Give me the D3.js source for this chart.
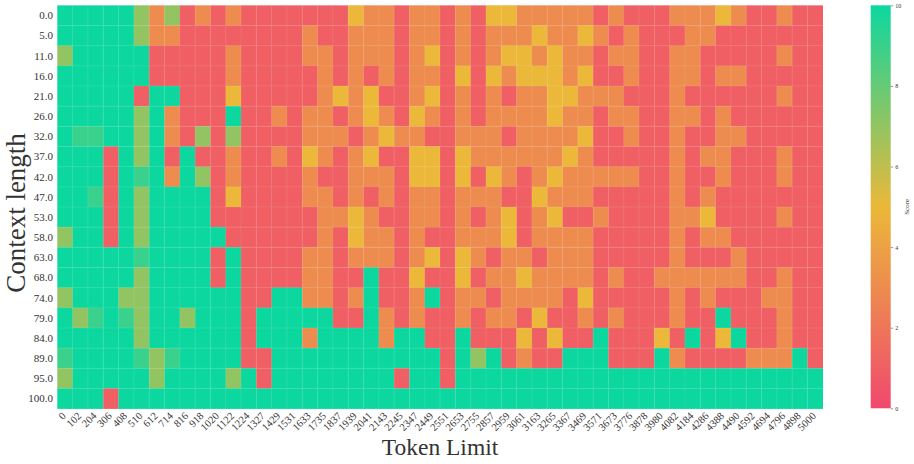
<!DOCTYPE html>
<html>
<head>
<meta charset="utf-8">
<script src="https://cdn.jsdelivr.net/npm/d3@7"></script>
<style>
  body { margin: 0; background: #fff; }
  text { font-family: "Liberation Serif", "DejaVu Serif", serif; fill: #333; }
</style>
</head>
<body>
<svg id="chart" width="914" height="464"></svg>
<script>
// token limits along x, needle depth (%) along y
var tokenLimits = ["0","102","204","306","408","510","612","714","816","918",
  "1020","1122","1224","1327","1429","1531","1633","1735","1837","1939",
  "2041","2143","2245","2347","2449","2551","2653","2755","2857","2959",
  "3061","3163","3265","3367","3469","3571","3673","3776","3878","3980",
  "4082","4184","4286","4388","4490","4592","4694","4796","4898","5000"];
var depths = ["0.0","5.0","11.0","16.0","21.0","26.0","32.0","37.0","42.0","47.0",
  "53.0","58.0","63.0","68.0","74.0","79.0","84.0","89.0","95.0","100.0"];
var cbTicks = [0, 2, 4, 6, 8, 10];

// one row per depth, one score per token limit
var scores = [
  [10,10,10,10,10,7,3,7,1,3, 1,3,1,1,1,1,1,1,1,5, 3,3,1,3,3,1,3,1,5,5, 3,3,3,3,3,1,3,1,1,1, 3,3,3,5,3,1,1,3,1,1],
  [10,10,10,10,10,7,3,3,1,1, 1,1,1,1,1,1,3,1,1,3, 3,3,1,3,3,1,3,1,3,3, 3,5,3,3,5,3,1,3,1,1, 1,3,3,1,1,1,1,1,1,1],
  [7,10,10,10,10,10,1,1,1,1, 1,3,1,1,1,1,3,3,1,3, 3,3,1,3,5,1,3,1,3,5, 5,3,5,3,3,1,3,3,1,1, 3,3,1,1,1,1,1,3,1,1],
  [10,10,10,10,10,10,1,1,1,1, 1,3,1,1,1,1,1,3,1,3, 1,3,1,3,3,1,5,1,5,3, 5,5,5,3,5,1,1,3,1,1, 3,3,1,3,3,1,1,1,1,1],
  [10,10,10,10,10,1,10,10,1,1, 1,5,1,1,1,1,1,3,5,3, 5,1,1,3,5,1,3,1,3,1, 3,3,5,5,3,3,3,1,1,1, 3,1,1,1,1,1,1,3,1,1],
  [10,10,10,10,10,7,10,3,1,1, 1,10,1,1,3,1,3,3,1,3, 5,3,1,5,3,1,3,1,3,3, 3,3,5,3,3,1,3,3,1,1, 3,3,1,3,1,1,1,1,1,1],
  [10,9,9,10,10,7,10,3,1,7, 1,7,1,1,1,1,3,3,3,1, 3,5,3,3,1,1,3,3,3,1, 3,3,3,3,5,1,1,3,1,1, 3,1,1,3,3,1,1,1,1,1],
  [10,10,10,1,10,7,10,1,10,1, 1,3,1,1,3,1,5,3,1,3, 5,1,1,5,5,1,5,3,3,3, 3,3,3,5,3,1,1,1,1,1, 3,1,3,3,1,1,1,3,1,1],
  [10,10,10,1,10,9,10,3,10,7, 1,3,1,1,1,1,3,1,1,3, 3,3,1,5,5,1,5,1,5,3, 1,3,5,3,3,3,3,3,1,1, 3,1,1,3,1,1,1,3,1,1],
  [10,10,9,1,10,7,10,10,10,10, 1,5,1,1,1,1,3,3,1,3, 1,3,1,3,3,1,3,3,3,1, 1,5,3,3,3,1,1,1,1,1, 3,1,3,1,1,1,1,1,1,1],
  [10,10,10,1,10,7,10,10,10,10, 1,1,1,1,1,1,1,3,3,5, 3,1,1,3,3,1,3,1,3,5, 1,3,5,1,1,3,1,1,1,1, 3,3,5,1,1,1,1,3,1,1],
  [7,10,10,1,10,7,10,10,10,10, 10,1,1,1,1,1,1,3,1,5, 3,3,1,3,1,1,3,3,3,5, 1,3,3,3,3,1,1,1,1,1, 3,1,3,3,1,1,1,1,1,1],
  [10,10,10,10,10,9,10,10,10,10, 1,10,1,1,1,1,3,3,1,3, 3,3,1,3,5,1,5,3,1,3, 3,1,3,3,3,1,1,1,1,1, 3,1,1,1,3,1,1,1,1,1],
  [10,10,10,10,10,7,10,10,10,10, 1,10,1,1,1,1,3,3,1,1, 10,1,1,5,1,1,5,1,3,3, 5,3,3,3,3,1,3,1,1,3, 3,3,3,3,3,1,1,3,1,1],
  [7,10,10,10,7,7,10,10,10,10, 10,10,1,1,10,10,3,3,1,3, 10,1,1,3,10,1,3,3,1,3, 3,3,3,1,5,1,1,1,1,1, 3,1,3,1,1,1,3,3,1,1],
  [10,7,9,10,9,7,10,10,7,10, 10,10,1,10,10,10,10,10,1,1, 10,3,1,3,1,1,3,1,3,3, 1,5,1,1,3,1,3,1,1,1, 3,1,1,10,1,1,1,3,1,1],
  [10,10,10,10,10,7,10,10,10,10, 10,10,1,10,10,10,3,10,10,10, 10,3,10,10,1,1,10,1,1,1, 5,1,5,1,1,10,1,1,1,5, 1,10,1,5,10,1,1,3,1,1],
  [9,10,10,10,10,9,7,9,10,10, 10,10,1,1,10,10,10,10,10,10, 10,10,10,10,10,1,10,7,10,1, 3,1,1,10,10,10,1,1,1,10, 3,1,1,1,1,3,3,3,10,1],
  [7,10,10,10,10,10,7,10,10,10, 10,7,10,1,10,10,10,10,10,10, 10,10,1,10,10,1,10,10,10,10, 10,10,10,10,10,10,10,10,10,10, 10,10,10,10,10,10,10,10,10,10],
  [10,10,10,1,10,10,10,10,10,10, 10,10,10,10,10,10,10,10,10,10, 10,10,10,10,10,10,10,10,10,10, 10,10,10,10,10,10,10,10,10,10, 10,10,10,10,10,10,10,10,10,10]
];

var svg = d3.select("#chart");
var plotLeft = 57.3, plotRight = 822.7, plotTop = 5.3, plotBottom = 408.6;

var x = d3.scaleBand().domain(tokenLimits).range([plotLeft, plotRight]);
var y = d3.scaleBand().domain(depths).range([plotTop, plotBottom]);
var color = d3.scaleLinear()
    .domain([0, 5, 10])
    .range(["#F0496E", "#EBB839", "#0CD79F"]);

var cells = [];
scores.forEach(function(row, i) {
    row.forEach(function(v, j) {
        cells.push({depth: depths[i], limit: tokenLimits[j], score: v});
    });
});

svg.append("g").selectAll("rect")
    .data(cells)
    .enter()
    .append("rect")
    .attr("x", function(d) { return x(d.limit); })
    .attr("y", function(d) { return y(d.depth); })
    .attr("width", x.bandwidth() + 0.3)
    .attr("height", y.bandwidth() + 0.3)
    .style("fill", function(d) { return color(d.score); });

// faint white grid between cells
var grid = svg.append("g").attr("stroke", "#fff").attr("stroke-opacity", 0.14).attr("stroke-width", 0.8);
tokenLimits.slice(1).forEach(function(t) {
    grid.append("line").attr("x1", x(t)).attr("x2", x(t)).attr("y1", plotTop).attr("y2", plotBottom);
});
depths.slice(1).forEach(function(dp) {
    grid.append("line").attr("x1", plotLeft).attr("x2", plotRight).attr("y1", y(dp)).attr("y2", y(dp));
});
svg.append("line").attr("x1", plotLeft).attr("x2", plotRight).attr("y1", plotTop).attr("y2", plotTop)
    .attr("stroke", "#ccc").attr("stroke-width", 0.6).attr("stroke-dasharray", "1,1");

// y tick labels
svg.append("g").selectAll("text")
    .data(depths)
    .enter()
    .append("text")
    .attr("x", 53)
    .attr("y", function(d) { return y(d) + y.bandwidth() / 2; })
    .attr("dy", "0.35em")
    .attr("text-anchor", "end")
    .style("font-size", "11px")
    .text(function(d) { return d; });

// x tick labels, rotated
svg.append("g").selectAll("text")
    .data(tokenLimits)
    .enter()
    .append("text")
    .attr("transform", function(d) {
        return "translate(" + (x(d) + x.bandwidth() / 2 - 1) + ",414) rotate(-45)";
    })
    .attr("dy", "0.35em")
    .attr("text-anchor", "end")
    .style("font-size", "10.5px")
    .text(function(d) { return d; });

svg.append("text")
    .attr("transform", "translate(25,213) rotate(-90)")
    .attr("text-anchor", "middle")
    .style("font-size", "27px")
    .text("Context length");

svg.append("text")
    .attr("x", (plotLeft + plotRight) / 2)
    .attr("y", 455)
    .attr("text-anchor", "middle")
    .style("font-size", "23.5px")
    .text("Token Limit");

// colorbar
var cbX = 870.7, cbW = 20;
var cy = d3.scaleLinear().domain([0, 10]).range([408.3, 5.3]);
var grad = svg.append("defs").append("linearGradient")
    .attr("id", "cbgrad").attr("x1", 0).attr("x2", 0).attr("y1", 1).attr("y2", 0);
[0, 5, 10].forEach(function(v) {
    grad.append("stop").attr("offset", v / 10).attr("stop-color", color(v));
});
svg.append("rect")
    .attr("x", cbX).attr("y", cy(10))
    .attr("width", cbW).attr("height", cy(0) - cy(10))
    .style("fill", "url(#cbgrad)");

var cbAxis = d3.axisRight(cy).tickValues(cbTicks).tickSize(2.5).tickPadding(2);
var cbg = svg.append("g")
    .attr("transform", "translate(" + (cbX + cbW) + ",0)")
    .call(cbAxis);
cbg.select(".domain").remove();
cbg.selectAll(".tick line").attr("stroke", "#555").attr("stroke-width", 0.6);
cbg.selectAll(".tick text")
    .style("font-family", "Liberation Serif, serif")
    .style("font-size", "6px")
    .attr("fill", "#444");

svg.append("text")
    .attr("transform", "translate(909," + ((5.3 + 408.3) / 2) + ") rotate(-90)")
    .attr("text-anchor", "middle")
    .style("font-size", "7px")
    .text("Score");
</script>
</body>
</html>
